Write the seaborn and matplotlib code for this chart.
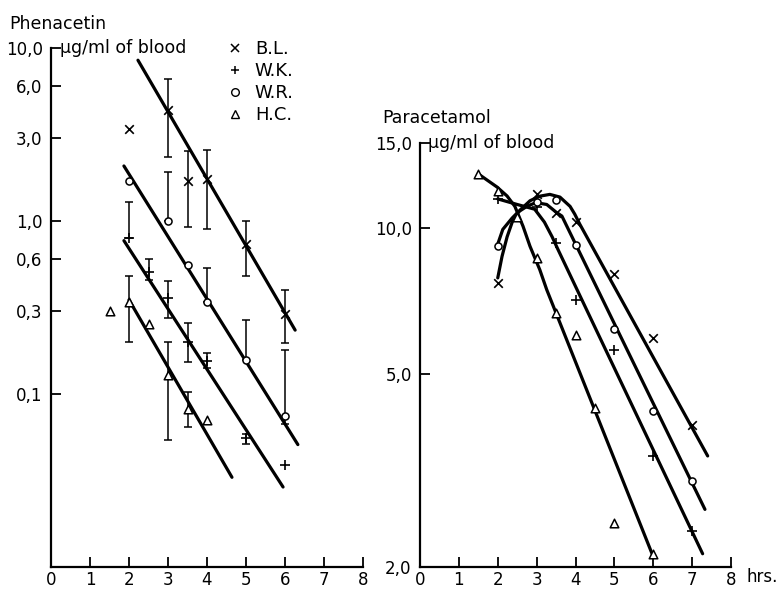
import numpy as np
import pandas as pd
import matplotlib
matplotlib.use("Agg")
import matplotlib.pyplot as plt
from matplotlib.lines import Line2D
from matplotlib.ticker import FixedLocator, FixedFormatter, NullLocator
import seaborn as sns

sns.set_style("ticks")
plt.rcParams['font.family'] = ['DejaVu Sans']
plt.rcParams['text.color'] = 'black'
plt.rcParams['xtick.color'] = 'black'
plt.rcParams['ytick.color'] = 'black'
plt.rcParams['xtick.direction'] = 'in'
plt.rcParams['ytick.direction'] = 'in'

# ---------------- data ----------------
subjects = ["B.L.", "W.K.", "W.R.", "H.C."]
subject_markers = ["x", "+", "o", "^"]

# Phenacetin (left panel) measured points
phen_bl_x = [2, 3, 3.5, 4, 5, 6]
phen_bl_y = [3.4, 4.4, 1.7, 1.75, 0.74, 0.29]
phen_wk_x = [2, 2.5, 3, 3.5, 4, 5, 6]
phen_wk_y = [0.80, 0.51, 0.36, 0.20, 0.155, 0.056, 0.039]
phen_wr_x = [2, 3, 3.5, 4, 5, 6]
phen_wr_y = [1.70, 1.0, 0.56, 0.34, 0.157, 0.075]
phen_hc_x = [1.5, 2, 2.5, 3, 3.5, 4]
phen_hc_y = [0.30, 0.34, 0.254, 0.129, 0.082, 0.071]

# Phenacetin error bars (x, lower, upper)
phen_bl_err_x = [3, 3.5, 4, 5, 6]
phen_bl_err_lo = [2.34, 0.92, 0.90, 0.48, 0.197]
phen_bl_err_hi = [6.6, 2.54, 2.57, 1.0, 0.40]
phen_wk_err_x = [2, 2.5, 3, 3.5, 4, 5]
phen_wk_err_lo = [0.80, 0.456, 0.275, 0.153, 0.141, 0.0514]
phen_wk_err_hi = [1.29, 0.60, 0.45, 0.257, 0.173, 0.0585]
phen_wr_err_x = [3, 4, 5, 6]
phen_wr_err_lo = [1.0, 0.34, 0.157, 0.067]
phen_wr_err_hi = [1.92, 0.535, 0.268, 0.18]
phen_hc_err_x = [2, 3, 3.5]
phen_hc_err_lo = [0.20, 0.054, 0.0645]
phen_hc_err_hi = [0.48, 0.20, 0.103]

# Phenacetin regression lines (start/end)
phen_bl_fit_x = [2.23, 6.26]
phen_bl_fit_y = [8.5, 0.234]
phen_wk_fit_x = [1.87, 5.95]
phen_wk_fit_y = [0.77, 0.029]
phen_wr_fit_x = [1.87, 6.33]
phen_wr_fit_y = [2.08, 0.051]
phen_hc_fit_x = [2.0, 4.64]
phen_hc_fit_y = [0.35, 0.033]

phen_ticks = [0.1, 0.3, 0.6, 1.0, 3.0, 6.0, 10.0]
phen_tick_labels = ["0,1", "0,3", "0,6", "1,0", "3,0", "6,0", "10,0"]

# Paracetamol (right panel) measured points
para_bl_x = [2, 3, 3.5, 4, 5, 6, 7]
para_bl_y = [7.7, 11.77, 10.74, 10.29, 8.06, 5.93, 3.92]
para_wk_x = [2, 3, 3.5, 4, 5, 6, 7]
para_wk_y = [11.5, 11.06, 9.31, 7.11, 5.60, 3.39, 2.37]
para_wr_x = [2, 3, 3.5, 4, 5, 6, 7]
para_wr_y = [9.18, 11.32, 11.44, 9.22, 6.19, 4.19, 3.01]
para_hc_x = [1.5, 2, 2.5, 3, 3.5, 4, 4.5, 5, 6]
para_hc_y = [12.95, 11.94, 10.54, 8.67, 6.68, 6.03, 4.25, 2.46, 2.13]

# Paracetamol fitted curves
para_bl_curve_x = [2.0, 2.11, 2.24, 2.39, 2.57, 2.83, 3.08, 3.34, 3.6, 3.86, 3.98, 4.11, 7.4]
para_bl_curve_y = [7.9, 8.75, 9.6, 10.4, 10.9, 11.4, 11.65, 11.75, 11.6, 11.1, 10.7, 10.2, 3.39]
para_wk_curve_x = [2.0, 2.5, 2.95, 3.2, 3.4, 3.55, 7.27]
para_wk_curve_y = [11.5, 11.2, 10.95, 10.3, 9.6, 9.04, 2.13]
para_wr_curve_x = [1.98, 2.13, 2.37, 2.52, 2.75, 2.98, 3.26, 3.5, 3.65, 7.33]
para_wr_curve_y = [9.18, 9.95, 10.5, 10.8, 11.1, 11.3, 11.2, 10.8, 10.6, 2.63]
para_hc_curve_x = [1.5, 1.98, 2.24, 2.44, 2.65, 2.83, 3.08, 3.26, 6.0]
para_hc_curve_y = [12.95, 12.17, 11.66, 11.1, 10.1, 9.18, 8.22, 7.47, 2.1]

para_ticks = [2.0, 5.0, 10.0, 15.0]
para_tick_labels = ["2,0", "5,0", "10,0", "15,0"]

x_ticks = [0, 1, 2, 3, 4, 5, 6, 7, 8]
x_tick_labels = ["0", "1", "2", "3", "4", "5", "6", "7", "8"]

# ---------------- build tables ----------------
def table(xs, ys, names):
    rows = []
    for x, y, n in zip(xs, ys, names):
        for a, b in zip(x, y):
            rows.append({"x": a, "y": b, "subject": n})
    return pd.DataFrame(rows)

phen_pts = [(phen_bl_x, phen_bl_y), (phen_wk_x, phen_wk_y), (phen_wr_x, phen_wr_y), (phen_hc_x, phen_hc_y)]
phen_err = [(phen_bl_err_x, phen_bl_err_lo, phen_bl_err_hi), (phen_wk_err_x, phen_wk_err_lo, phen_wk_err_hi),
            (phen_wr_err_x, phen_wr_err_lo, phen_wr_err_hi), (phen_hc_err_x, phen_hc_err_lo, phen_hc_err_hi)]
phen_fit = table([phen_bl_fit_x, phen_wk_fit_x, phen_wr_fit_x, phen_hc_fit_x],
                 [phen_bl_fit_y, phen_wk_fit_y, phen_wr_fit_y, phen_hc_fit_y], subjects)
para_pts = [(para_bl_x, para_bl_y), (para_wk_x, para_wk_y), (para_wr_x, para_wr_y), (para_hc_x, para_hc_y)]
para_fit = table([para_bl_curve_x, para_wk_curve_x, para_wr_curve_x, para_hc_curve_x],
                 [para_bl_curve_y, para_wk_curve_y, para_wr_curve_y, para_hc_curve_y], subjects)

# ---------------- figure ----------------
W, H = 781, 590
fig = plt.figure(figsize=(W / 100, H / 100), dpi=100)

def px_axes(x0, x1, ytop, ybot):
    return fig.add_axes([x0 / W, 1 - ybot / H, (x1 - x0) / W, (ybot - ytop) / H])

axL = px_axes(51, 363, 48, 567)
axR = px_axes(420, 731, 143, 567)

TICK_FS = 12
marker_sizes = {"x": 38, "+": 45, "o": 26, "^": 38}

def draw_points(ax, pts):
    for (xs, ys), m in zip(pts, subject_markers):
        if m in ("o", "^"):
            sns.scatterplot(x=xs, y=ys, marker=m, s=marker_sizes[m], color="white",
                            edgecolor="black", linewidth=1.1, ax=ax, zorder=5, clip_on=False)
        else:
            sns.scatterplot(x=xs, y=ys, marker=m, s=marker_sizes[m], color="black",
                            linewidth=1.2, ax=ax, zorder=5, clip_on=False)

def style_axis(ax, yticks, ylabels, ylim):
    ax.set_yscale("log")
    ax.set_xlim(0, 8)
    ax.set_ylim(*ylim)
    ax.yaxis.set_major_locator(FixedLocator(yticks))
    ax.yaxis.set_major_formatter(FixedFormatter(ylabels))
    ax.yaxis.set_minor_locator(NullLocator())
    ax.xaxis.set_major_locator(FixedLocator(x_ticks))
    ax.xaxis.set_major_formatter(FixedFormatter(x_tick_labels))
    ax.tick_params(axis="both", which="both", direction="in", length=7.5, width=1.3,
                   labelsize=TICK_FS, colors="black", labelcolor="black")
    ax.tick_params(axis="y", pad=6)
    ax.tick_params(axis="x", pad=3)
    for s in ("top", "right"):
        ax.spines[s].set_visible(False)
    for s in ("left", "bottom"):
        ax.spines[s].set_linewidth(1.6)
        ax.spines[s].set_color("black")
    ax.set_xlabel("")
    ax.set_ylabel("")
    ax.set_facecolor("white")

# Left panel
sns.lineplot(data=phen_fit, x="x", y="y", units="subject", estimator=None, sort=False,
             color="black", linewidth=2.3, ax=axL, legend=False)
for ex, lo, hi in phen_err:
    lo = np.array(lo); hi = np.array(hi)
    mid = np.sqrt(lo * hi)
    axL.errorbar(ex, mid, yerr=[mid - lo, hi - mid], fmt="none", ecolor="black",
                 elinewidth=1.1, capsize=3.0, capthick=1.1, zorder=3)
draw_points(axL, phen_pts)
style_axis(axL, phen_ticks, phen_tick_labels, (0.01, 10.0))

# Right panel
sns.lineplot(data=para_fit, x="x", y="y", units="subject", estimator=None, sort=False,
             color="black", linewidth=2.3, ax=axR, legend=False)
draw_points(axR, para_pts)
style_axis(axR, para_ticks, para_tick_labels, (2.0, 15.0))

# Texts
LAB_FS = 12.5
def ftext(x, y, s, **kw):
    fig.text(x / W, 1 - y / H, s, va="center", ha="left", color="black", **kw)

ftext(9, 24, "Phenacetin", fontsize=LAB_FS)
ftext(60, 48, "\u03bcg/ml of blood", fontsize=LAB_FS)
ftext(382, 118, "Paracetamol", fontsize=LAB_FS)
ftext(428, 143, "\u03bcg/ml of blood", fontsize=LAB_FS)
ftext(746, 577, "hrs.", fontsize=TICK_FS)

# Legend
handles = []
for m in subject_markers:
    if m in ("o", "^"):
        handles.append(Line2D([], [], ls="none", marker=m, markersize=5.5, markerfacecolor="white",
                              markeredgecolor="black", markeredgewidth=1.0))
    else:
        handles.append(Line2D([], [], ls="none", marker=m, markersize=6, color="black",
                              markeredgewidth=1.1))
leg = axL.legend(handles, subjects, loc="upper left", bbox_to_anchor=(226 / W, 1 - 40 / H),
                 bbox_transform=fig.transFigure, frameon=False, fontsize=13, handlelength=1.0,
                 handletextpad=0.6, labelspacing=0.23, borderpad=0, borderaxespad=0)
for t in leg.get_texts():
    t.set_color("black")

fig.savefig("out.png", dpi=100, facecolor="white")
